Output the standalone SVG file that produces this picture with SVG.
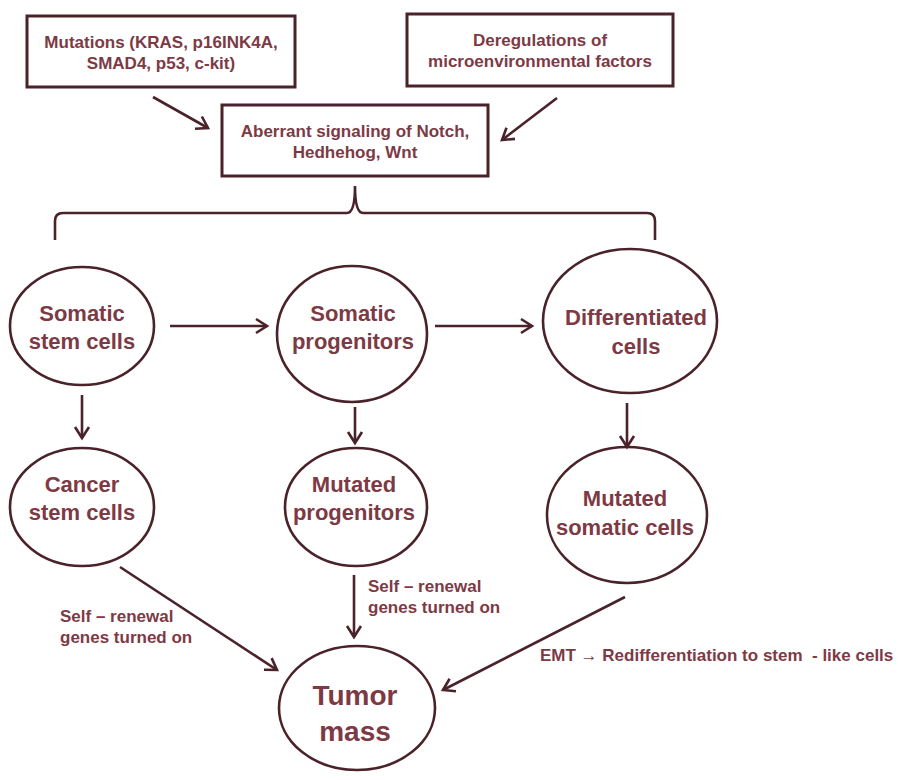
<svg xmlns="http://www.w3.org/2000/svg" width="901" height="780" viewBox="0 0 901 780">
<defs>
<marker id="ah" markerUnits="userSpaceOnUse" markerWidth="20" markerHeight="20" refX="14" refY="10" orient="auto">
<path d="M3,3 L14,10 L3,17" fill="none" stroke="#4a2229" stroke-width="2.6" stroke-linejoin="miter"/>
</marker>
<style>
.box{fill:#fff;stroke:#4a2229;stroke-width:3}
.ell{fill:#fff;stroke:#4a2229;stroke-width:2.6}
.t{font-family:"Liberation Sans",Arial,sans-serif;font-weight:bold;fill:#7d3a45;text-anchor:middle}
.s{font-size:17px}
.m{font-size:22px}
.l{font-size:28px}
.lab{font-family:"Liberation Sans",Arial,sans-serif;font-weight:bold;fill:#7d3a45;font-size:17px}
.c{fill:none;stroke:#4a2229;stroke-width:2.6}
</style>
</defs>
<rect width="901" height="780" fill="#fff"/>
<g id="mutations">
<rect class="box" x="27" y="16" width="268" height="71"/>
<text class="t s" x="161" y="48">Mutations (KRAS, p16INK4A,</text>
<text class="t s" x="161" y="69">SMAD4, p53, c-kit)</text>
</g>
<g id="dereg">
<rect class="box" x="407" y="14" width="266" height="72"/>
<text class="t s" x="540" y="46">Deregulations of</text>
<text class="t s" x="540" y="67">microenvironmental factors</text>
</g>
<g id="aberrant">
<rect class="box" x="222" y="105" width="266" height="71"/>
<text class="t s" x="355" y="137">Aberrant signaling of Notch,</text>
<text class="t s" x="355" y="158">Hedhehog, Wnt</text>
</g>
<g id="somatic-stem">
<ellipse class="ell" cx="82" cy="326" rx="72" ry="59"/>
<text class="t m" x="82" y="321">Somatic</text>
<text class="t m" x="82" y="349">stem cells</text>
</g>
<g id="somatic-prog">
<ellipse class="ell" cx="352" cy="334" rx="75" ry="68"/>
<text class="t m" x="353" y="321">Somatic</text>
<text class="t m" x="353" y="349">progenitors</text>
</g>
<g id="differentiated">
<ellipse class="ell" cx="630" cy="321" rx="87" ry="72"/>
<text class="t m" x="636" y="325">Differentiated</text>
<text class="t m" x="636" y="354">cells</text>
</g>
<g id="cancer-stem">
<ellipse class="ell" cx="82" cy="507" rx="72" ry="59"/>
<text class="t m" x="82" y="492">Cancer</text>
<text class="t m" x="82" y="520">stem cells</text>
</g>
<g id="mutated-prog">
<ellipse class="ell" cx="356" cy="507" rx="71" ry="59"/>
<text class="t m" x="354" y="492">Mutated</text>
<text class="t m" x="354" y="520">progenitors</text>
</g>
<g id="mutated-somatic">
<ellipse class="ell" cx="627" cy="515" rx="80" ry="68"/>
<text class="t m" x="625" y="506">Mutated</text>
<text class="t m" x="625" y="535">somatic cells</text>
</g>
<g id="tumor">
<ellipse class="ell" cx="357" cy="708" rx="78" ry="62"/>
<text class="t l" x="355" y="705">Tumor</text>
<text class="t l" x="355" y="741">mass</text>
</g>
<g id="connectors">
<path class="c" d="M153,97 L208,128" marker-end="url(#ah)"/>
<path class="c" d="M557,98 L502,140" marker-end="url(#ah)"/>
<path class="c" d="M55,240 L55,221 Q55,213 63,213 L347,213 Q355,213 355,186 Q355,213 363,213 L647,213 Q655,213 655,221 L655,240"/>
<path class="c" d="M170,326 L267,326" marker-end="url(#ah)"/>
<path class="c" d="M435,326 L532,326" marker-end="url(#ah)"/>
<path class="c" d="M82,395 L82,438" marker-end="url(#ah)"/>
<path class="c" d="M355,407 L355,443" marker-end="url(#ah)"/>
<path class="c" d="M627,403 L627,447" marker-end="url(#ah)"/>
<path class="c" d="M120,567 L277,670" marker-end="url(#ah)"/>
<path class="c" d="M354,575 L354,637" marker-end="url(#ah)"/>
<path class="c" d="M625,597 L443,690" marker-end="url(#ah)"/>
</g>
<g id="labels">
<text class="lab" x="60" y="622">Self – renewal</text>
<text class="lab" x="60" y="643">genes turned on</text>
<text class="lab" x="368" y="592">Self – renewal</text>
<text class="lab" x="368" y="613">genes turned on</text>
<text class="lab" x="540" y="661" xml:space="preserve">EMT → Redifferentiation to stem  - like cells</text>
</g>
</svg>
